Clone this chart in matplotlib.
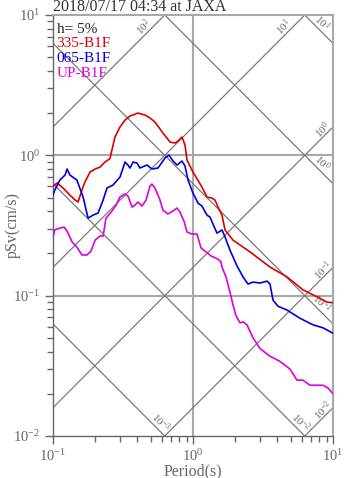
import numpy as np
import matplotlib
matplotlib.use('Agg')
import matplotlib.pyplot as plt
from matplotlib.ticker import LogLocator, FuncFormatter, NullFormatter

plt.rcParams['font.family'] = 'Liberation Serif'
plt.rcParams['mathtext.fontset'] = 'custom'
plt.rcParams['mathtext.rm'] = 'Liberation Serif'
plt.rcParams['mathtext.it'] = 'Liberation Serif:italic'
plt.rcParams['mathtext.default'] = 'regular'

title = '2018/07/17 04:34 at JAXA'
damping = 'h= 5%'

# pseudo velocity response spectra, period [s] vs pSv [cm/s]
per_335 = [0.100, 0.107, 0.118, 0.132, 0.144, 0.151, 0.161, 0.169, 0.184, 0.200,
           0.217, 0.235, 0.255, 0.277, 0.301, 0.327, 0.355, 0.404, 0.454, 0.493,
           0.535, 0.610, 0.685, 0.744, 0.782, 0.834, 0.877, 0.906, 1.000, 1.159,
           1.259, 1.366, 1.435, 1.509, 1.611, 1.693, 1.931, 2.553, 3.548, 4.690,
           6.100, 7.690, 9.060, 10.00]
psv_335 = [0.604, 0.635, 0.585, 0.521, 0.480, 0.465, 0.566, 0.645, 0.760, 0.799,
           0.825, 0.896, 0.947, 1.350, 1.591, 1.785, 1.906, 2.000, 1.938, 1.845,
           1.727, 1.442, 1.244, 1.224, 1.265, 1.350, 1.184, 0.926, 0.760, 0.594,
           0.505, 0.496, 0.480, 0.428, 0.375, 0.294, 0.249, 0.205, 0.160, 0.136,
           0.110, 0.098, 0.090, 0.089]

per_065 = [0.100, 0.103, 0.112, 0.122, 0.126, 0.132, 0.148, 0.164, 0.178, 0.193,
           0.210, 0.228, 0.243, 0.268, 0.301, 0.327, 0.343, 0.355, 0.373, 0.398,
           0.418, 0.469, 0.509, 0.562, 0.631, 0.674, 0.720, 0.769, 0.834, 0.877,
           0.921, 1.000, 1.086, 1.159, 1.259, 1.322, 1.483, 1.611, 1.693, 1.837,
           2.062, 2.276, 2.471, 2.683, 3.010, 3.379, 3.548, 3.728, 4.050, 4.690,
           5.810, 7.190, 8.480, 10.00]
psv_065 = [0.521, 0.566, 0.667, 0.724, 0.799, 0.724, 0.667, 0.505, 0.357, 0.375,
           0.388, 0.480, 0.585, 0.614, 0.700, 0.896, 0.853, 0.812, 0.896, 0.881,
           0.812, 0.853, 0.799, 0.812, 0.957, 1.005, 0.911, 0.853, 0.911, 0.839,
           0.667, 0.538, 0.457, 0.435, 0.375, 0.363, 0.279, 0.294, 0.262, 0.211,
           0.163, 0.136, 0.121, 0.125, 0.123, 0.127, 0.121, 0.093, 0.084, 0.079,
           0.069, 0.062, 0.059, 0.054]

per_up = [0.100, 0.103, 0.112, 0.120, 0.126, 0.137, 0.148, 0.161, 0.175, 0.187,
          0.200, 0.217, 0.228, 0.239, 0.264, 0.282, 0.301, 0.327, 0.343, 0.367,
          0.385, 0.404, 0.432, 0.462, 0.493, 0.509, 0.535, 0.581, 0.610, 0.662,
          0.720, 0.769, 0.807, 0.862, 0.906, 0.984, 1.068, 1.140, 1.238, 1.345,
          1.509, 1.585, 1.611, 1.721, 1.837, 1.931, 2.028, 2.166, 2.276, 2.430,
          2.683, 3.010, 3.548, 4.183, 4.930, 5.530, 6.100, 6.850, 7.690, 8.480,
          9.210, 10.00]
psv_up = [0.262, 0.294, 0.303, 0.308, 0.289, 0.241, 0.222, 0.195, 0.195, 0.208,
          0.249, 0.266, 0.266, 0.357, 0.401, 0.442, 0.505, 0.530, 0.513, 0.428,
          0.442, 0.465, 0.435, 0.480, 0.604, 0.624, 0.585, 0.480, 0.407, 0.382,
          0.401, 0.421, 0.394, 0.340, 0.284, 0.275, 0.275, 0.219, 0.205, 0.192,
          0.182, 0.174, 0.160, 0.136, 0.106, 0.086, 0.072, 0.064, 0.065, 0.062,
          0.050, 0.042, 0.037, 0.034, 0.030, 0.025, 0.025, 0.023, 0.023, 0.023,
          0.022, 0.020]

series = [
    ('335-B1F', per_335, psv_335, '#dd0000'),
    ('065-B1F', per_065, psv_065, '#0000dd'),
    ('UP-B1F', per_up, psv_up, '#dd00dd'),
]

# tripartite guide lines: displacement [cm] and acceleration [gal]
disp_exp = [1, 0, -1, -2, -3]
disp_lab = ['$10^{1}$', '$10^{0}$', '$10^{-1}$', '$10^{-2}$', '$10^{-3}$']
acc_exp = [2, 1, 0, -1, -2]
acc_lab = ['$10^{2}$', '$10^{1}$', '$10^{0}$', '$10^{-1}$', '$10^{-2}$']

tmin, tmax = 0.1, 10.0
vmin, vmax = 0.01, 10.0

fig = plt.figure(figsize=(3.47, 4.78), dpi=100)
ax = fig.add_axes([53/347, 42/478, 280/347, 421/478])
ax.set_xscale('log')
ax.set_yscale('log')
ax.set_xlim(tmin, tmax)
ax.set_ylim(vmin, vmax)

gcol = '#a8a8a8'
dcol = '#7a7a7a'
tcol = '#666666'

for v in [1.0, 0.1]:
    ax.axhline(v, color=gcol, lw=1.5, zorder=1)
ax.axvline(1.0, color=gcol, lw=1.5, zorder=1)

T = np.logspace(-1, 1, 400)

for k, lab in zip(disp_exp, disp_lab):
    sd = 10.0**k
    ax.plot(T, 2*np.pi*sd/T, color=dcol, lw=0.9, zorder=2)
    if 2*np.pi*sd/tmax >= vmin:
        end = (tmax, 2*np.pi*sd/tmax)
        off = (-11, 21)
    else:
        end = (2*np.pi*sd/vmin, vmin)
        off = (-4, 14)
    ax.annotate(lab, xy=end, xytext=off, textcoords='offset pixels',
                rotation=-45, ha='center', va='center', fontsize=8,
                color=tcol, annotation_clip=False)

for k, lab in zip(acc_exp, acc_lab):
    sa = 10.0**k
    ax.plot(T, sa*T/(2*np.pi), color=dcol, lw=0.9, zorder=2)
    if sa*tmax/(2*np.pi) <= vmax:
        end = (tmax, sa*tmax/(2*np.pi))
        off = (-10, -3)
    else:
        end = (vmax*2*np.pi/sa, vmax)
        off = (-21, -12)
    ax.annotate(lab, xy=end, xytext=off, textcoords='offset pixels',
                rotation=45, ha='center', va='center', fontsize=8,
                color=tcol, annotation_clip=False)

for name, per, psv, c in series:
    ax.plot(per, psv, color=c, lw=1.2, zorder=4)

# legend as coloured text
ax.text(0.013, 0.965, damping, transform=ax.transAxes, fontsize=11,
        color='#222222', va='center', ha='left')
for i, (name, per, psv, c) in enumerate(series):
    ax.text(0.013, 0.932 - 0.035*i, name, transform=ax.transAxes,
            fontsize=11, color=c, va='center', ha='left')

fig.text(53/347, 1 - 11/478, title, fontsize=11.5, color='#333333',
         ha='left', va='baseline')

for side in ['left', 'bottom']:
    ax.spines[side].set_color(tcol)
    ax.spines[side].set_linewidth(1.0)
for side in ['top', 'right']:
    ax.spines[side].set_color(gcol)
    ax.spines[side].set_linewidth(1.5)

fmt = FuncFormatter(lambda v, p: '$10^{%d}$' % round(np.log10(v)))
for axis in [ax.xaxis, ax.yaxis]:
    axis.set_major_locator(LogLocator(base=10))
    axis.set_minor_locator(LogLocator(base=10, subs=np.arange(2, 10)))
    axis.set_major_formatter(fmt)
    axis.set_minor_formatter(NullFormatter())
ax.tick_params(which='major', direction='out', length=6, width=1,
               color=tcol, labelcolor=tcol, labelsize=10.5, pad=3)
ax.tick_params(which='minor', direction='out', length=4, width=1, color=tcol)

ax.set_xlabel('Period(s)', fontsize=11.5, color=tcol, va='center')
ax.set_ylabel('pSv(cm/s)', fontsize=11.5, color=tcol, va='center')
ax.xaxis.set_label_coords(0.5, -35/421)
ax.yaxis.set_label_coords(-40/280, 0.5)

fig.savefig('out.png', dpi=100)
